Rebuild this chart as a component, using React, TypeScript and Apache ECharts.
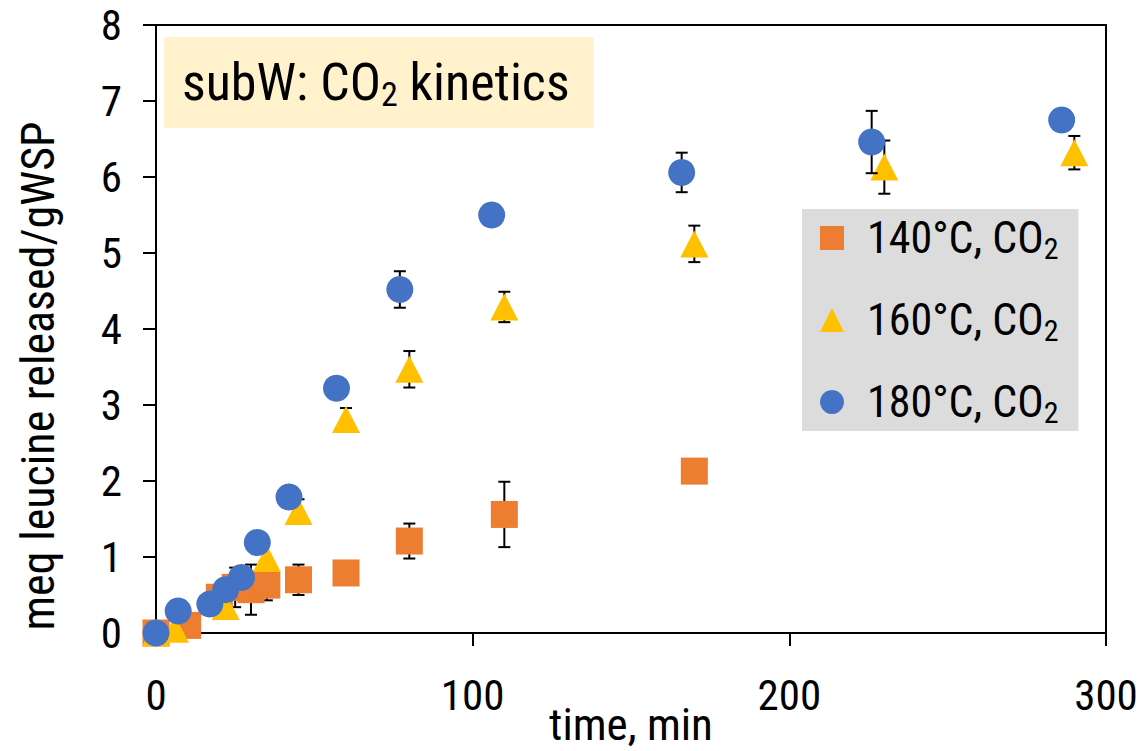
import React, { useEffect, useRef } from "react";
import * as echarts from "echarts";

const SERIES_NAMES = ["140°C, CO2", "160°C, CO2", "180°C, CO2"];

const T140 = [0, 10, 20, 25, 30, 35, 45, 60, 80, 110, 170];
const Y140 = [0, 0.1, 0.47, 0.6, 0.57, 0.63, 0.7, 0.79, 1.21, 1.56, 2.13];
const E140 = [0, 0, 0, 0.26, 0.33, 0.2, 0.2, 0, 0.23, 0.43, 0];

const T160 = [0, 6, 22, 35, 45, 60, 80, 110, 170, 230, 290];
const Y160 = [0, 0.05, 0.35, 0.98, 1.6, 2.81, 3.47, 4.29, 5.12, 6.13, 6.32];
const E160 = [0, 0, 0, 0, 0.16, 0.15, 0.24, 0.2, 0.24, 0.35, 0.22];

const T180 = [0, 7, 17, 22, 27, 32, 42, 57, 77, 106, 166, 226, 286];
const Y180 = [0, 0.29, 0.38, 0.57, 0.73, 1.19, 1.79, 3.22, 4.52, 5.5, 6.06, 6.46, 6.75];
const E180 = [0, 0, 0, 0, 0, 0, 0, 0, 0.24, 0, 0.26, 0.41, 0];

const X_TICKS = [0, 100, 200, 300];
const Y_TICKS = [0, 1, 2, 3, 4, 5, 6, 7, 8];

const COLORS = ["#ED7D31", "#FFC000", "#4472C4"];
const SYMBOLS = ["rect", "triangle", "circle"];
const FONT = "'Roboto Condensed', Roboto, sans-serif";
const FW = 400;

export default function App() {
  const ref = useRef<HTMLDivElement>(null);
  useEffect(() => {
    if (!ref.current) return;
    const chart = echarts.init(ref.current, null, { renderer: "svg" });
    const groups = [
      [T140, Y140, E140],
      [T160, Y160, E160],
      [T180, Y180, E180],
    ];
    const series: any[] = [];
    groups.forEach((g, i) => {
      const [ts, ys, es] = g;
      series.push({
        type: "custom",
        name: "err" + i,
        z: 2 + i * 2,
        silent: true,
        data: ts.map((t, k) => [t, ys[k], es[k]]),
        encode: { x: 0, y: 1 },
        renderItem: (params: any, api: any) => {
          const x = api.value(0);
          const y = api.value(1);
          const e = api.value(2);
          if (!e) return null;
          const top = api.coord([x, y + e]);
          const bot = api.coord([x, y - e]);
          const cap = 6;
          const st = { stroke: "#000", lineWidth: 2 };
          return {
            type: "group",
            children: [
              { type: "line", shape: { x1: top[0], y1: top[1], x2: bot[0], y2: bot[1] }, style: st },
              { type: "line", shape: { x1: top[0] - cap, y1: top[1], x2: top[0] + cap, y2: top[1] }, style: st },
              { type: "line", shape: { x1: bot[0] - cap, y1: bot[1], x2: bot[0] + cap, y2: bot[1] }, style: st },
            ],
          };
        },
      });
      series.push({
        type: "scatter",
        name: SERIES_NAMES[i],
        z: 3 + i * 2,
        symbol: SYMBOLS[i],
        symbolSize: i === 1 ? [28, 27] : 27,
        itemStyle: { color: COLORS[i], opacity: 1 },
        data: ts.map((t, k) => [t, ys[k]]),
      });
    });

    const option: any = {
      animation: false,
      backgroundColor: "#fff",
      textStyle: { fontFamily: FONT, fontWeight: FW },
      title: {
        text: "{a|subW: CO}{s|2}{a| kinetics}",
        left: 164,
        top: 37,
        backgroundColor: "#FFF2CC",
        padding: [16, 24, 17, 18],
        textStyle: {
          rich: {
            a: { fontSize: 52, fontFamily: FONT, fontWeight: FW, color: "#000", lineHeight: 58 },
            s: { fontSize: 34, fontFamily: FONT, fontWeight: FW, color: "#000", padding: [24, 0, 0, 0], lineHeight: 58 },
          },
        },
      },
      legend: {
        orient: "vertical",
        left: 802,
        top: 209,
        backgroundColor: "#DCDCDC",
        padding: [4, 20, 4, 18],
        itemGap: 32,
        itemWidth: 24,
        itemHeight: 24,
        data: SERIES_NAMES.map((n, i) => ({ name: n, icon: SYMBOLS[i] })),
        formatter: (name: string) => "{a|" + name.slice(0, -1) + "}{s|2}",
        textStyle: {
          padding: [0, 0, 0, 18],
          rich: {
            a: { fontSize: 44, fontFamily: FONT, fontWeight: FW, color: "#000", lineHeight: 44 },
            s: { fontSize: 30, fontFamily: FONT, fontWeight: FW, color: "#000", padding: [20, 0, 0, 0], lineHeight: 44 },
          },
        },
      },
      grid: {
        left: 156,
        right: 36,
        top: 25,
        bottom: 118,
        containLabel: false,
        outerBoundsMode: "none",
        show: true,
        borderColor: "#000",
        borderWidth: 2,
        backgroundColor: "transparent",
      },
      xAxis: {
        type: "value",
        min: X_TICKS[0],
        max: X_TICKS[X_TICKS.length - 1],
        interval: X_TICKS[1] - X_TICKS[0],
        name: "time, min",
        nameLocation: "middle",
        nameGap: 69,
        nameMoveOverlap: false,
        nameTextStyle: { fontSize: 45, color: "#000", fontFamily: FONT, fontWeight: FW, lineHeight: 44 },
        axisLine: { onZero: false, lineStyle: { color: "#000", width: 2 } },
        axisTick: { show: true, inside: false, length: 13, lineStyle: { color: "#000", width: 2 } },
        axisLabel: { fontSize: 43, color: "#000", margin: 40, fontFamily: FONT, fontWeight: FW },
        splitLine: { show: false },
      },
      yAxis: {
        type: "value",
        min: Y_TICKS[0],
        max: Y_TICKS[Y_TICKS.length - 1],
        interval: Y_TICKS[1] - Y_TICKS[0],
        name: "meq leucine released/gWSP",
        nameLocation: "middle",
        nameGap: 95,
        nameMoveOverlap: false,
        nameRotate: 90,
        nameTextStyle: { fontSize: 46, color: "#000", fontFamily: FONT, fontWeight: FW, padding: [0, 94, 0, 0] },
        axisLine: { onZero: false, lineStyle: { color: "#000", width: 2 } },
        axisTick: { show: true, inside: false, length: 13, lineStyle: { color: "#000", width: 2 } },
        axisLabel: { fontSize: 43, color: "#000", margin: 34, fontFamily: FONT, fontWeight: FW },
        splitLine: { show: false },
      },
      series,
    };
    chart.setOption(option);
    return () => chart.dispose();
  }, []);
  return (
    <div
      ref={ref}
      style={{ position: "fixed", left: 0, top: 0, width: 1142, height: 751 }}
    />
  );
}
